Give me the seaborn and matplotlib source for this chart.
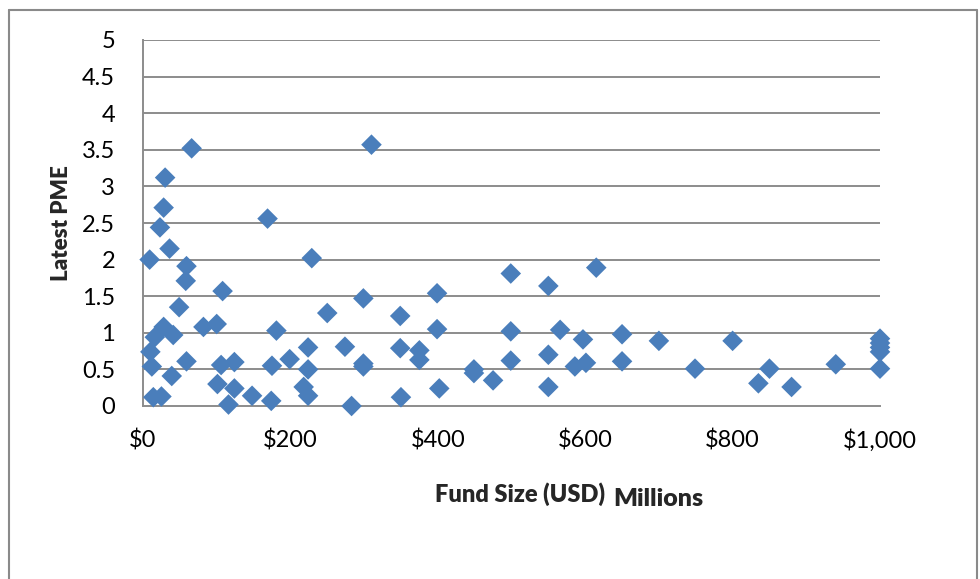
import matplotlib
matplotlib.use("Agg")
import matplotlib.pyplot as plt
from matplotlib.lines import Line2D
import seaborn as sns
import pandas as pd

fund_size = [66, 30, 28, 23, 36, 9, 59, 58, 169, 229, 108, 49, 250, 28, 41, 16, 82, 100, 181,
             10, 12, 59, 39, 106, 124, 101, 124, 148, 116, 174, 14, 25, 175, 199, 224, 224, 218, 224,
             310, 299, 349, 399, 499, 274, 299, 299, 349, 375, 375, 399, 499, 449, 449, 475, 499,
             283, 350, 402,
             615, 550, 566, 597, 650, 700, 550, 586, 601, 650, 749, 550,
             800, 850, 835, 880, 940, 1000, 1000, 1000, 1000, 1000]
latest_pme = [3.52, 3.12, 2.71, 2.44, 2.15, 2.00, 1.91, 1.71, 2.56, 2.02, 1.57, 1.35, 1.27, 1.08, 0.97, 0.94, 1.08, 1.12, 1.03,
              0.74, 0.54, 0.61, 0.41, 0.56, 0.60, 0.30, 0.24, 0.14, 0.02, 0.07, 0.12, 0.13, 0.55, 0.64, 0.80, 0.50, 0.26, 0.14,
              3.57, 1.47, 1.23, 1.54, 1.81, 0.81, 0.58, 0.54, 0.79, 0.76, 0.63, 1.05, 1.02, 0.50, 0.45, 0.35, 0.62,
              0.00, 0.12, 0.24,
              1.89, 1.64, 1.04, 0.91, 0.98, 0.89, 0.70, 0.54, 0.59, 0.61, 0.51, 0.26,
              0.89, 0.51, 0.31, 0.26, 0.57, 0.92, 0.86, 0.80, 0.74, 0.51]
x_ticks = [0, 200, 400, 600, 800, 1000]
x_tick_labels = ["$0", "$200", "$400", "$600", "$800", "$1,000"]
y_ticks = [0, 0.5, 1, 1.5, 2, 2.5, 3, 3.5, 4, 4.5, 5]
y_tick_labels = ["0", "0.5", "1", "1.5", "2", "2.5", "3", "3.5", "4", "4.5", "5"]

df = pd.DataFrame({"Fund Size": fund_size, "Latest PME": latest_pme})

sns.set_style("white")
plt.rcParams["font.family"] = ["Lato", "DejaVu Sans"]

W, H = 980, 579
fig = plt.figure(figsize=(W / 100, H / 100), dpi=100)
ax = fig.add_axes([143 / W, 1 - 406 / H, (880 - 143) / W, (406 - 40) / H])

grid_c = "#8c8c8c"
ax.set_axisbelow(True)
for yv in y_ticks[1:]:
    ax.axhline(yv, color=grid_c, lw=1.4, zorder=0)

sns.scatterplot(data=df, x="Fund Size", y="Latest PME", marker="D", s=110,
                color="#4a7ebb", edgecolor="none", linewidth=0, ax=ax, zorder=3, clip_on=False)

ax.set_xlim(0, 1000)
ax.set_ylim(0, 5)
ax.set_xticks(x_ticks)
ax.set_xticklabels(x_tick_labels)
ax.set_yticks(y_ticks)
ax.set_yticklabels(y_tick_labels)
ax.tick_params(axis="y", direction="out", length=9, width=1.4, color=grid_c, pad=11, labelsize=17, labelcolor="black")
ax.tick_params(axis="x", direction="out", length=7, width=1.4, color=grid_c, pad=10, labelsize=17, labelcolor="black")
for side in ["top", "right"]:
    ax.spines[side].set_visible(False)
for side in ["left", "bottom"]:
    ax.spines[side].set_color(grid_c)
    ax.spines[side].set_linewidth(1.4)
ax.set_xlabel("")
ax.set_ylabel("")

fig.text(62 / W, 1 - 223 / H, "Latest PME", ha="center", va="center", rotation=90,
         fontsize=16, fontweight="heavy")
fig.text(520 / W, 1 - 494 / H, "Fund Size (USD)", ha="center", va="center", fontsize=17, fontweight="heavy")
fig.text(658 / W, 1 - 499 / H, "Millions", ha="center", va="center", fontsize=18, fontweight="heavy")

# outer chart frame
fc = "#8a8a8a"
fig.add_artist(Line2D([9 / W, 977 / W], [1 - 10 / H, 1 - 10 / H], color=fc, lw=1.5, transform=fig.transFigure))
fig.add_artist(Line2D([9 / W, 9 / W], [0, 1 - 10 / H], color=fc, lw=1.5, transform=fig.transFigure))
fig.add_artist(Line2D([977 / W, 977 / W], [0, 1 - 10 / H], color=fc, lw=1.5, transform=fig.transFigure))

fig.savefig("out.png", dpi=100)
